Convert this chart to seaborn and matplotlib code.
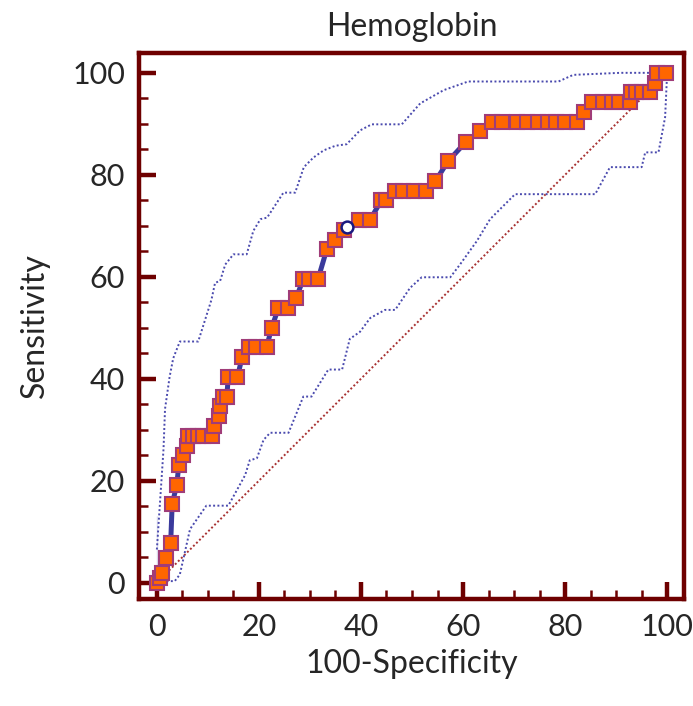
import numpy as np
import pandas as pd
import matplotlib
matplotlib.use('Agg')
import matplotlib.pyplot as plt
import seaborn as sns
from matplotlib.ticker import MultipleLocator

# ROC 曲线各点 (100-Specificity, Sensitivity)
roc_fpr = [0, 0.6, 0.6, 1.1, 1.8, 1.8, 2.7, 3.0, 3.9, 4.3, 5.2, 5.9, 6.1, 7.1, 8.1, 9.1, 10.8,
           11.1, 12.2, 12.4, 12.9, 13.7, 14.0, 15.8, 16.7, 18.1, 19.5, 21.5, 22.5, 23.8, 25.6,
           27.3, 28.7, 29.8, 31.6, 33.3, 35.0, 36.7, 39.7, 41.8, 44.0, 45.0, 46.7, 48.3, 50.4,
           52.7, 54.6, 57.1, 60.6, 63.3, 65.6, 67.7, 70.5, 72.5, 74.6, 76.6, 78.2, 80.0, 82.3,
           83.8, 85.2, 87.5, 89.1, 90.6, 92.7, 92.9, 93.9, 95.0, 96.7, 97.6, 98.0, 99.8]
roc_tpr = [0, 0, 1.9, 1.9, 3.8, 5.8, 7.7, 15.4, 19.2, 23.1, 25.0, 26.9, 28.8, 28.8, 28.8, 28.8, 28.8,
           30.8, 32.7, 34.6, 36.5, 36.5, 40.4, 40.4, 44.2, 46.2, 46.2, 46.2, 50.0, 53.8, 53.8,
           55.8, 59.6, 59.6, 59.6, 65.4, 67.3, 69.2, 71.2, 71.2, 75.0, 75.0, 76.9, 76.9, 76.9,
           76.9, 78.8, 82.7, 86.5, 88.5, 90.4, 90.4, 90.4, 90.4, 90.4, 90.4, 90.4, 90.4, 90.4,
           92.3, 94.2, 94.2, 94.2, 94.2, 94.2, 96.2, 96.2, 96.2, 96.2, 98.1, 100, 100]

# 最佳截断点
cut_x = [37.2]
cut_y = [69.7]

# 置信区间上界
upper_x = [0, 0, 1.0, 1.3, 1.6, 2.5, 3.2, 4.5, 8.1, 10.7, 11.4, 12.4, 13.4, 15.0, 17.6, 18.9,
           20.3, 21.6, 24.8, 27.1, 28.8, 30.7, 32.7, 35.0, 37.2, 39.8, 42.1, 48.0, 51.6, 56.2,
           61.0, 78.7, 81.6, 90.8, 96.7, 100]
upper_y = [0, 13.0, 21.6, 26.2, 34.1, 40.4, 44.0, 47.3, 47.3, 55.5, 58.8, 59.2, 62.4, 64.4, 64.4,
           69.0, 71.3, 71.6, 76.5, 76.5, 81.5, 83.4, 84.8, 85.7, 86.0, 88.7, 89.9, 89.9, 94.0,
           96.6, 98.3, 98.3, 99.6, 100, 100, 100]

# 置信区间下界
lower_x = [1.9, 3.5, 4.5, 6.5, 9.7, 14.0, 17.3, 18.2, 19.6, 20.9, 22.2, 25.8, 28.7, 30.3,
           33.6, 36.3, 37.8, 39.8, 41.8, 44.7, 46.7, 49.6, 51.9, 57.5, 59.4, 62.7, 65.3, 70.2,
           85.9, 88.8, 95.0, 95.7, 98.3, 99.6, 100]
lower_y = [0.3, 0.3, 1.6, 10.5, 15.1, 15.1, 21.1, 24.0, 24.4, 28.0, 29.4, 29.4, 36.5, 36.5,
           41.8, 41.8, 47.8, 49.2, 51.9, 53.5, 53.5, 57.8, 59.9, 59.9, 62.4, 67.0, 71.3, 76.2,
           76.2, 81.5, 81.5, 84.4, 84.4, 91.3, 100]

diag = [0, 100]

roc = pd.DataFrame({'fpr': roc_fpr, 'tpr': roc_tpr})
upper = pd.DataFrame({'x': upper_x, 'y': upper_y})
lower = pd.DataFrame({'x': lower_x, 'y': lower_y})
ref = pd.DataFrame({'x': diag, 'y': diag})

sns.set_theme(style='white')
plt.rcParams['font.family'] = ['Lato', 'DejaVu Sans']

spine_c = '#6e0000'

fig = plt.figure(figsize=(6.93, 7.06), dpi=100)
ax = fig.add_axes([0.2006, 0.1516, 0.7864, 0.7734])

sns.lineplot(data=ref, x='x', y='y', ax=ax, color='#a83232', linewidth=1.4,
             linestyle=(0, (1, 1.2)), sort=False)
sns.lineplot(data=upper, x='x', y='y', ax=ax, color='#4a4aae', linewidth=1.4,
             linestyle=(0, (1, 1.2)), sort=False)
sns.lineplot(data=lower, x='x', y='y', ax=ax, color='#4a4aae', linewidth=1.4,
             linestyle=(0, (1, 1.2)), sort=False)
sns.lineplot(data=roc, x='fpr', y='tpr', ax=ax, color='#3a3a9c', linewidth=3.6, sort=False,
             marker='s', markersize=9.5, markerfacecolor='#ff6600',
             markeredgecolor='#a03c78', markeredgewidth=1.5)
ax.plot(cut_x, cut_y, 'o', markersize=8.5, markerfacecolor='white',
        markeredgecolor='#1a1a80', markeredgewidth=1.8, zorder=5)

ax.set_xlim(-3.5, 103.3)
ax.set_ylim(-3.2, 103.9)
ax.xaxis.set_major_locator(MultipleLocator(20))
ax.xaxis.set_minor_locator(MultipleLocator(5))
ax.yaxis.set_major_locator(MultipleLocator(20))
ax.yaxis.set_minor_locator(MultipleLocator(5))

for s in ax.spines.values():
    s.set_color(spine_c)
    s.set_linewidth(3.2)
ax.tick_params(which='major', direction='in', length=12, width=3.2, color=spine_c,
               labelsize=22, pad=10, bottom=True, left=True)
ax.tick_params(which='minor', direction='in', length=6.5, width=1.8, color=spine_c,
               bottom=True, left=True)

ax.set_title('Hemoglobin', fontsize=23, pad=12)
ax.set_xlabel('100-Specificity', fontsize=23, labelpad=6)
ax.set_ylabel('Sensitivity', fontsize=23, labelpad=16)

fig.savefig('out.png', dpi=100)
